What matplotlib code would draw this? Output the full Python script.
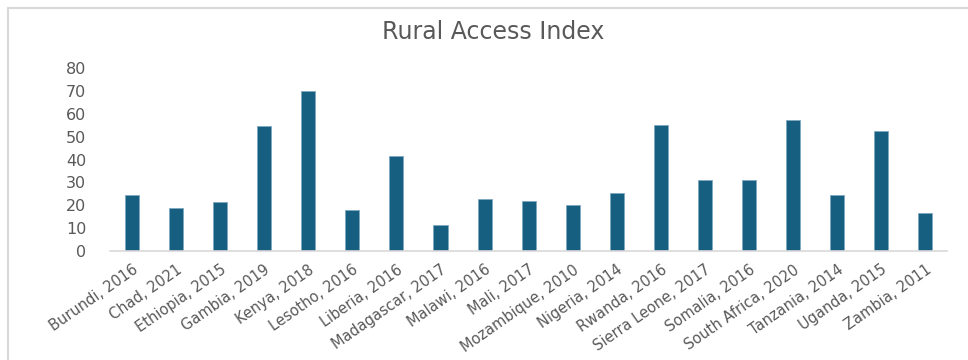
import numpy as np
import matplotlib.pyplot as plt
from matplotlib.lines import Line2D

countries = ['Burundi, 2016', 'Chad, 2021', 'Ethiopia, 2015', 'Gambia, 2019',
             'Kenya, 2018', 'Lesotho, 2016', 'Liberia, 2016', 'Madagascar, 2017',
             'Malawi, 2016', 'Mali, 2017', 'Mozambique, 2010', 'Nigeria, 2014',
             'Rwanda, 2016', 'Sierra Leone, 2017', 'Somalia, 2016',
             'South Africa, 2020', 'Tanzania, 2014', 'Uganda, 2015', 'Zambia, 2011']
rai = [24.5, 19.0, 21.3, 54.7, 69.8, 17.8, 41.5, 11.2, 22.8, 22.0,
       20.3, 25.3, 55.0, 31.1, 31.1, 57.2, 24.5, 52.7, 16.8]
yticks = [0, 10, 20, 30, 40, 50, 60, 70, 80]

grey = '#595959'
plt.rcParams['font.family'] = ['DejaVu Sans']

fig = plt.figure(figsize=(9.68, 3.6), dpi=100)
ax = fig.add_axes([0.1136, 0.3028, 0.865, 0.508])

x = np.arange(len(countries))
ax.bar(x, rai, width=0.32, color='#175f81', edgecolor='#7fa9c0', linewidth=0.6)

ax.set_xlim(-0.5, len(countries) - 0.5)
ax.set_ylim(0, 80)
ax.set_yticks(yticks)
ax.set_xticks(x)
ax.set_xticklabels(countries, rotation=35, ha='right', rotation_mode='anchor')
ax.tick_params(axis='both', length=0, colors=grey)
ax.tick_params(axis='y', pad=17, labelsize=11.5)
ax.tick_params(axis='x', pad=8, labelsize=10.5)

for s in ['top', 'right', 'left']:
    ax.spines[s].set_visible(False)
ax.spines['bottom'].set_color('#d9d9d9')
ax.spines['bottom'].set_linewidth(1.2)

fig.suptitle('Rural Access Index', x=0.51, y=0.945, fontsize=17, color=grey)

# chart border (top and left edges visible)
fig.add_artist(Line2D([8 / 968, 1], [1 - 8 / 360, 1 - 8 / 360],
                      transform=fig.transFigure, color='#d9d9d9', lw=1.5))
fig.add_artist(Line2D([8 / 968, 8 / 968], [0, 1 - 8 / 360],
                      transform=fig.transFigure, color='#d9d9d9', lw=1.5))

fig.savefig('out.png', dpi=100)
